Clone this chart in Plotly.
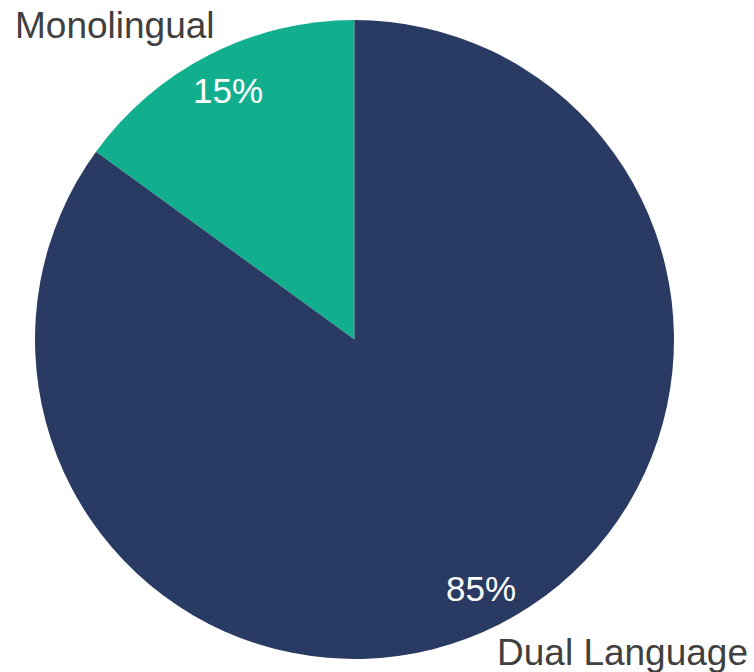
import math
import plotly.graph_objects as go

# Program model split
labels = ["Monolingual", "Dual Language"]
values = [15, 85]
colors = ["#12AF8F", "#293B63"]

FONT = "Liberation Sans, Arial, sans-serif"
TEXT_DARK = "#404040"

W, H = 754, 672
M = dict(l=35, r=80, t=20, b=13)

total = sum(values)
# first slice ends at 12 o'clock, sweeping clockwise from the left
start_deg = -360.0 * values[0] / total

fig = go.Figure(
    go.Pie(
        labels=labels,
        values=values,
        sort=False,
        direction="clockwise",
        rotation=start_deg,
        marker=dict(colors=colors, line=dict(width=0)),
        textinfo="none",
        hoverinfo="label+percent",
        showlegend=False,
        domain=dict(x=[0, 1], y=[0, 1]),
    )
)

# Slice mid-angles (counterclockwise from 12 o'clock) derived from the data
annotations = []
cum = 0.0
label_style = [
    # xanchor, yanchor, xshift, yshift for the category label outside the pie
    ("right", "middle", 8, 29),
    ("left", "middle", -5, -28),
]
for lab, val, (xa, ya, xs, ys) in zip(labels, values, label_style):
    frac = val / total
    mid = (cum + frac / 2) * 2 * math.pi
    cum += frac
    dx, dy = -math.sin(mid), math.cos(mid)

    # percentage inside the slice, near the rim
    rp = 0.5 * 0.873
    annotations.append(dict(
        x=0.5 + rp * dx, y=0.5 + rp * dy, xref="paper", yref="paper",
        text=f"{round(frac * 100)}%", showarrow=False,
        xanchor="center", yanchor="middle",
        font=dict(family=FONT, size=35, color="white"),
    ))

    # category label just outside the rim
    rl = 0.5
    annotations.append(dict(
        x=0.5 + rl * dx, y=0.5 + rl * dy, xref="paper", yref="paper",
        text=lab, showarrow=False, xanchor=xa, yanchor=ya,
        xshift=xs, yshift=ys,
        font=dict(family=FONT, size=37, color=TEXT_DARK),
    ))

fig.update_layout(
    width=W, height=H,
    margin=M,
    paper_bgcolor="white",
    plot_bgcolor="white",
    annotations=annotations,
)

fig.write_html("out.html")
